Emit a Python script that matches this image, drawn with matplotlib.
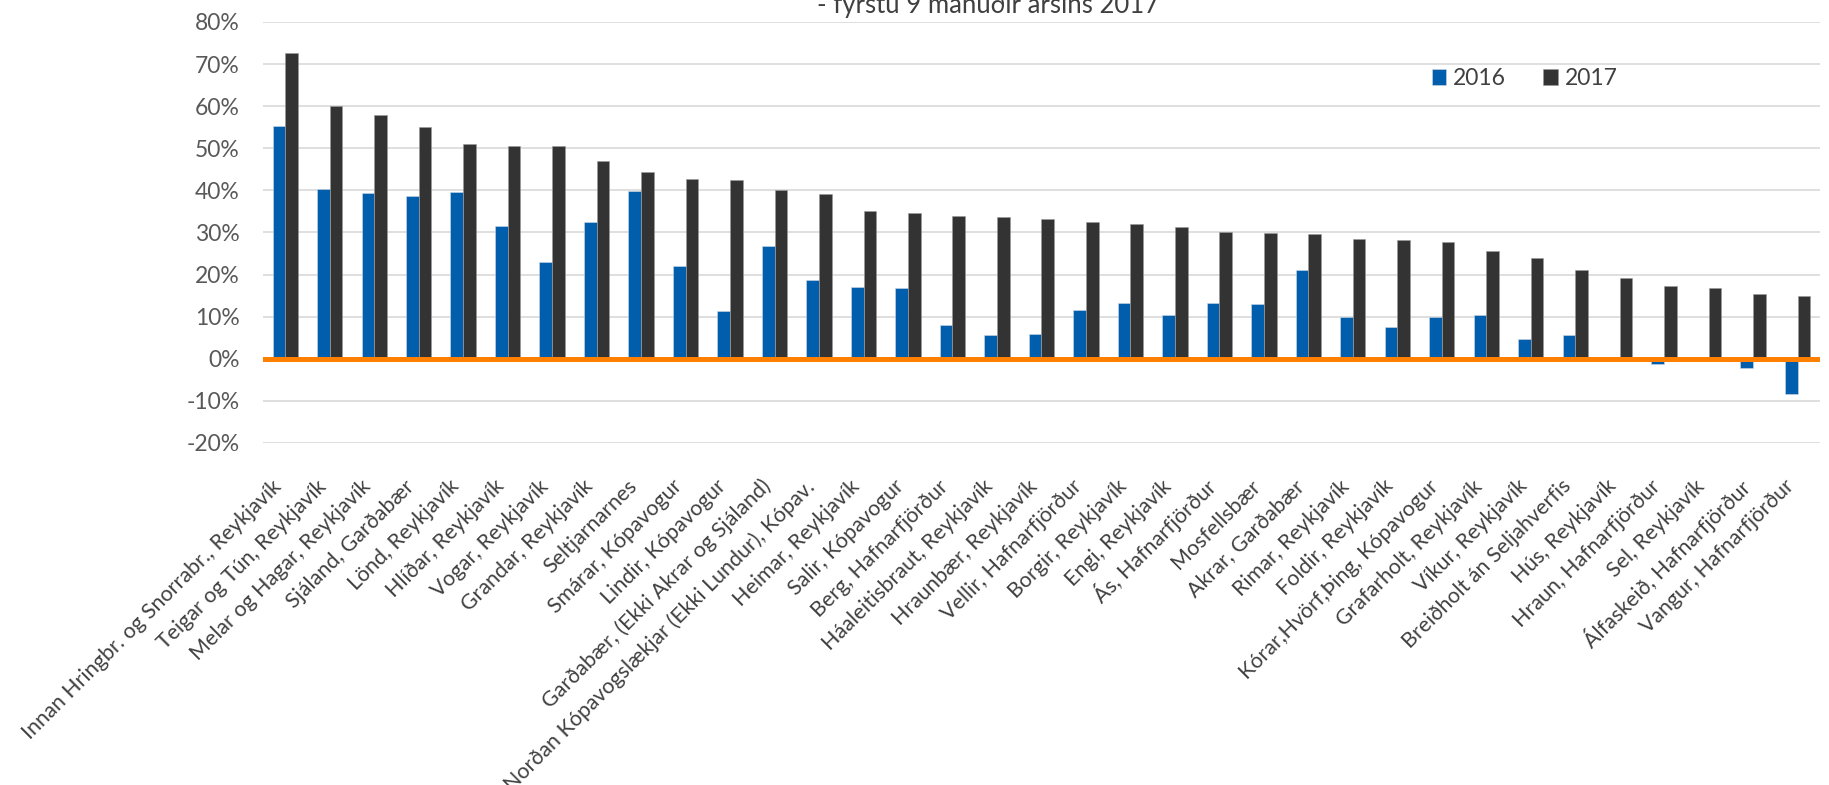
import numpy as np
import matplotlib.pyplot as plt
from matplotlib.ticker import PercentFormatter
from matplotlib.transforms import ScaledTranslation

plt.rcParams['font.family'] = ['Lato', 'DejaVu Sans']
plt.rcParams['axes.unicode_minus'] = False

categories = [
    'Innan Hringbr. og Snorrabr., Reykjavík', 'Teigar og Tún, Reykjavík',
    'Melar og Hagar, Reykjavík', 'Sjáland, Garðabær', 'Lönd, Reykjavík',
    'Hlíðar, Reykjavík', 'Vogar, Reykjavík', 'Grandar, Reykjavík',
    'Seltjarnarnes', 'Smárar, Kópavogur', 'Lindir, Kópavogur',
    'Garðabær, (Ekki Akrar og Sjáland)',
    'Norðan Kópavogslækjar (Ekki Lundur), Kópav.', 'Heimar, Reykjavík',
    'Salir, Kópavogur', 'Berg, Hafnarfjörður', 'Háaleitisbraut, Reykjavík',
    'Hraunbær, Reykjavík', 'Vellir, Hafnarfjörður', 'Borgir, Reykjavík',
    'Engi, Reykjavík', 'Ás, Hafnarfjörður', 'Mosfellsbær', 'Akrar, Garðabær',
    'Rimar, Reykjavík', 'Foldir, Reykjavík', 'Kórar,Hvörf,Þing, Kópavogur',
    'Grafarholt, Reykjavík', 'Víkur, Reykjavík', 'Breiðholt án Seljahverfis',
    'Hús, Reykjavík', 'Hraun, Hafnarfjörður', 'Sel, Reykjavík',
    'Álfaskeið, Hafnarfjörður', 'Vangur, Hafnarfjörður',
]

# % change
y2016 = [55.2, 40.3, 39.4, 38.7, 39.5, 31.6, 22.9, 32.6, 39.8, 22.1, 11.3, 26.8,
         18.7, 17.0, 16.9, 8.1, 5.6, 5.8, 11.5, 13.3, 10.3, 13.3, 12.9, 21.0,
         10.0, 7.5, 10.0, 10.4, 4.7, 5.6, -0.6, -1.3, 0.0, -2.2, -8.3]
y2017 = [72.6, 60.0, 57.9, 55.0, 51.0, 50.6, 50.5, 46.9, 44.3, 42.6, 42.4, 40.1,
         39.1, 35.0, 34.6, 33.9, 33.6, 33.2, 32.5, 32.0, 31.2, 30.0, 29.8, 29.7,
         28.4, 28.3, 27.7, 25.6, 23.9, 21.1, 19.3, 17.2, 16.7, 15.3, 14.9]

series_names = ['2016', '2017']
colors = ['#005EAD', '#333333']

fig = plt.figure(figsize=(18.29, 7.85), dpi=100)
ax = fig.add_axes([0.1438, 0.4357, 0.8512, 0.5363])

x = np.arange(len(categories))
w = 0.285
ax.bar(x - w / 2, y2016, w, color=colors[0], edgecolor='#d0d8e8', linewidth=0.4,
       label=series_names[0], zorder=3)
ax.bar(x + w / 2, y2017, w, color=colors[1], edgecolor='#9a9a9a', linewidth=0.4,
       label=series_names[1], zorder=3)
ax.axhline(0, color='#FF7F00', lw=3.6, zorder=4)

ax.set_xlim(-0.5, len(categories) - 0.5)
ax.set_ylim(-20, 80)
ax.set_yticks(np.arange(-20, 81, 10))
ax.yaxis.set_major_formatter(PercentFormatter(decimals=0))
ax.grid(axis='y', color='#d9d9d9', lw=1.2, zorder=0)
for s in ax.spines.values():
    s.set_visible(False)
ax.tick_params(axis='y', length=0, pad=17, labelsize=16.5, labelcolor='#595959')
ax.tick_params(axis='x', length=0, pad=29)
ax.set_xticks(x)
ax.set_xticklabels(categories, rotation=45, ha='right', va='center',
                   rotation_mode='anchor', fontsize=15.4, color='#404040')
shift = ScaledTranslation(-7 / 100, 0, fig.dpi_scale_trans)
for lab in ax.get_xticklabels():
    lab.set_transform(lab.get_transform() + shift)

fig.legend(loc='center left', bbox_to_anchor=(0.7827, 0.9), ncol=2, frameon=False,
           fontsize=16.5, handlelength=0.65, handleheight=0.65, handletextpad=0.3,
           columnspacing=1.6, borderpad=0, borderaxespad=0, labelcolor='#404040')

fig.text(0.540, 1 - 13 / 785, '- fyrstu 9 mánuðir ársins 2017', ha='center',
         va='baseline', fontsize=18.5, color='#404040')

fig.savefig('out.png', dpi=100)
